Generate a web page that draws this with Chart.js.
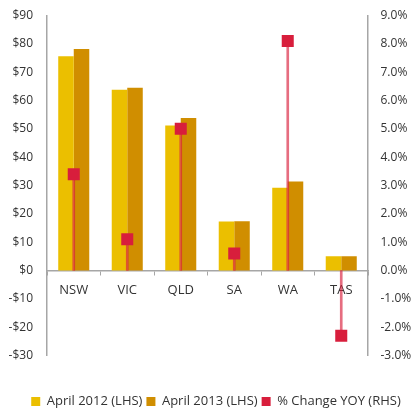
<!DOCTYPE html>
<html>
<head>
<meta charset="utf-8">
<script src="https://cdn.jsdelivr.net/npm/chart.js@4"></script>
<style>
  html, body { margin: 0; padding: 0; background: #fff; }
  #wrap { position: relative; width: 416px; height: 412px; }
</style>
</head>
<body>
<div id="wrap"><canvas id="c"></canvas></div>
<script>
// states and values
const states = ['NSW', 'VIC', 'QLD', 'SA', 'WA', 'TAS'];
const april2012 = [75.6, 63.8, 51.2, 17.3, 29.2, 5.0];
const april2013 = [78.2, 64.5, 53.8, 17.4, 31.4, 5.0];
const pctChange = [3.4, 1.1, 5.0, 0.6, 8.1, -2.3];
const leftTicks = [-30, -20, -10, 0, 10, 20, 30, 40, 50, 60, 70, 80, 90];
const rightTicks = [-3, -2, -1, 0, 1, 2, 3, 4, 5, 6, 7, 8, 9];

const FONT = '"Open Sans", "DejaVu Sans", sans-serif';
const TXT = '#333';
const AXIS = '#a6a6a6';
const RED = '#d81e3c';

const money = v => (v < 0 ? '-$' + Math.abs(v) : '$' + v);

// fixed axis width, and no extra label padding above/below the plot
const fixAxis = w => s => { s.width = w; s.paddingTop = 0; s.paddingBottom = 0; };

const chart = new Chart(document.getElementById('c'), {
  data: {
    labels: states,
    datasets: [
      {
        type: 'bar', label: 'April 2012 (LHS)', data: april2012, yAxisID: 'y',
        backgroundColor: '#ebbf00', barPercentage: 1, categoryPercentage: 0.58, order: 3,
      },
      {
        type: 'bar', label: 'April 2013 (LHS)', data: april2013, yAxisID: 'y',
        backgroundColor: '#d08e00', barPercentage: 1, categoryPercentage: 0.58, order: 3,
      },
      {
        // stems from zero to each % value
        type: 'bar', label: 'stem', data: pctChange.map(v => [0, v]), yAxisID: 'y2',
        backgroundColor: 'rgba(216,30,60,0.65)', barThickness: 2, grouped: false, order: 2,
      },
      {
        type: 'line', label: '% Change YOY (RHS)', data: pctChange, yAxisID: 'y2',
        showLine: false, pointStyle: 'rect', pointRadius: 8.5, pointHoverRadius: 8.5,
        backgroundColor: RED, borderColor: RED, borderWidth: 0, order: 1,
      },
    ],
  },
  options: {
    responsive: true,
    maintainAspectRatio: false,
    animation: false,
    layout: { padding: { left: 7, right: -9, top: 15.5, bottom: -6 } },
    plugins: {
      tooltip: { enabled: false },
      legend: {
        position: 'bottom',
        title: { display: true, text: ' ', font: { size: 1, lineHeight: 1 }, padding: { top: 34.5, bottom: 0 } },
        labels: {
          font: { family: FONT, size: 13, lineHeight: 1 },
          color: TXT,
          boxWidth: 9,
          boxHeight: 9,
          padding: 4,
          filter: item => item.text !== 'stem',
          sort: (a, b) => a.datasetIndex - b.datasetIndex,
        },
      },
    },
    scales: {
      x: {
        position: { y: 0 },
        grid: { display: true, drawOnChartArea: false, color: AXIS, tickLength: 4, offset: true },
        border: { color: AXIS, width: 1.5 },
        ticks: { font: { family: FONT, size: 13 }, color: TXT, padding: 8 },
      },
      y: {
        position: 'left',
        min: -30, max: 90,
        afterBuildTicks: s => { s.ticks = leftTicks.map(v => ({ value: v })); },
        afterFit: fixAxis(40),
        grid: { display: false, drawTicks: false },
        border: { color: AXIS, width: 1.5 },
        ticks: { font: { family: FONT, size: 12 }, color: TXT, padding: 14, callback: money },
      },
      y2: {
        position: 'right',
        min: -3, max: 9,
        afterBuildTicks: s => { s.ticks = rightTicks.map(v => ({ value: v })); },
        afterFit: fixAxis(57),
        grid: { display: false, drawTicks: false },
        border: { color: AXIS, width: 1.5 },
        ticks: { font: { family: FONT, size: 12 }, color: TXT, padding: 12.5, callback: v => v.toFixed(1) + '%' },
      },
    },
  },
});
</script>
</body>
</html>
